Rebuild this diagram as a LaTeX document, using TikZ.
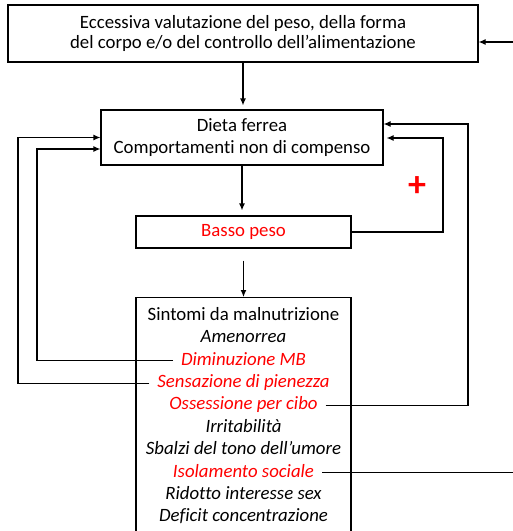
\documentclass[tikz,border=0pt]{standalone}
\usepackage{fontspec}
\setmainfont{Carlito}[Ligatures={NoCommon,NoRare}]
\usetikzlibrary{positioning,arrows.meta}
\newcommand\bodyfont{\fontsize{18.8}{20}\selectfont}
\tikzset{
  box/.style={draw, line width=1.2pt, align=center, inner sep=0pt, font=\bodyfont},
  sym/.style={inner xsep=8pt, inner ysep=0pt, outer sep=0pt, text height=13pt,
    text depth=4.5pt, minimum height=22.4pt, font=\bodyfont\itshape},
  hot/.style={text=red},
}
\begin{document}
\begin{tikzpicture}[x=1pt,y=1pt,line width=1.2pt]
  \useasboundingbox (0,0) rectangle (513,-531);
  % boxes
  \node[box, minimum width=470pt, minimum height=57pt] (valut) at (243,-33.5)
  {Eccessiva valutazione del peso, della forma\\del corpo e/o del controllo dell’alimentazione};
  \node[box, minimum width=282pt, minimum height=55pt,
    font=\fontsize{18.8}{22}\selectfont] (dieta) at (242,-137.5)
  {Dieta ferrea\\Comportamenti non di compenso};
  \node[box, hot, minimum width=215pt, minimum height=32pt] (basso) at (243.5,-232) {Basso peso};
  \node[box, minimum width=215pt, minimum height=250pt, anchor=north] (sintomi) at (243.5,-297) {};
  % symptoms
  \node[sym, font=\bodyfont] (s1) at (243.5,-316) {Sintomi da malnutrizione};
  \node[sym, below=0pt of s1] (s2) {Amenorrea};
  \node[sym, hot, below=0pt of s2] (s3) {Diminuzione MB};
  \node[sym, hot, below=0pt of s3] (s4) {Sensazione di pienezza};
  \node[sym, hot, below=0pt of s4] (s5) {Ossessione per cibo};
  \node[sym, below=0pt of s5] (s6) {Irritabilità};
  \node[sym, below=0pt of s6] (s7) {Sbalzi del tono dell’umore};
  \node[sym, hot, below=0pt of s7] (s8) {Isolamento sociale};
  \node[sym, below=0pt of s8] (s9) {Ridotto interesse sex};
  \node[sym, below=0pt of s9] (s10) {Deficit concentrazione};
  \node[text=red, font=\fontsize{36}{36}\selectfont\bfseries] (plus) at (417,-187) {+};
  \begin{scope}[-{Latex[length=7pt,width=6pt]}]
    \draw[shorten >=4pt] (valut.south) -- (valut.south |- dieta.north);
    \draw[shorten >=5pt] (dieta.south) -- (dieta.south |- basso.north);
    \draw[shorten <=12pt] (basso.south) -- (sintomi.north);
    \draw (s3.west) -| (37,-250) |- ([yshift=-11.5pt]dieta.west);
    \draw (s4.west) -| (18,-250) |- (dieta.west);
    \draw[shorten >=3pt] (basso.east) -| (443,-180) |- ([yshift=-0.5pt]dieta.east);
    \draw (s5.east) -| (468,-250) |- ([yshift=13.5pt]dieta.east);
    \draw (s8.east) -| (517,-42) -- ([yshift=-8.5pt]valut.east);
  \end{scope}
\end{tikzpicture}
\end{document}
